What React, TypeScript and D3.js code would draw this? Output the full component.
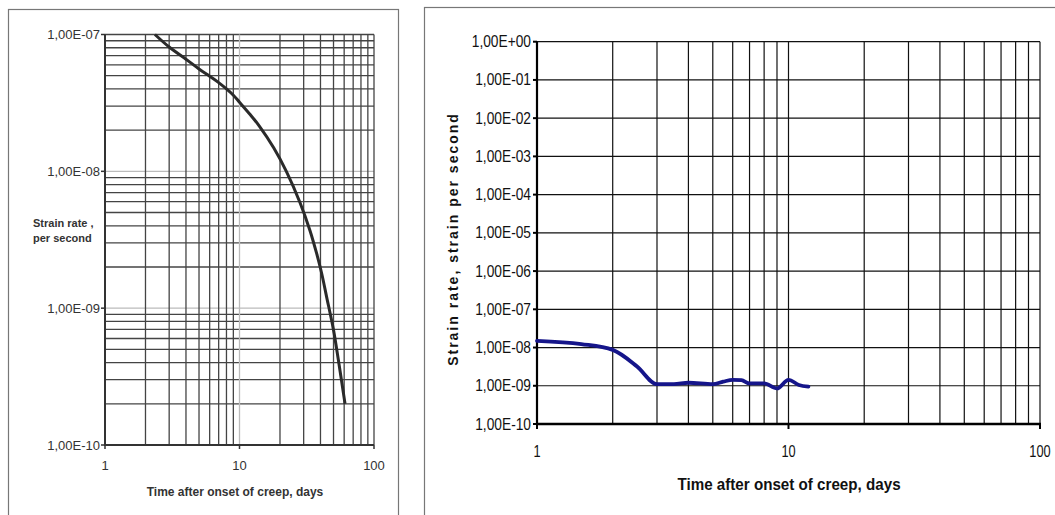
import * as d3 from "d3";

// left chart: creep strain rate
const leftDays = [
  2.35, 3, 4, 5, 6, 7, 8, 9, 10, 12, 14, 18, 22.3, 28.2, 33.4, 37.5, 40.8, 44.5, 49.9, 54.3, 60.9,
];
const leftRate = [
  1e-7, 8.1e-8, 6.6e-8, 5.6e-8, 4.95e-8, 4.45e-8, 4e-8, 3.6e-8, 3.2e-8, 2.6e-8, 2.15e-8, 1.48e-8,
  1e-8, 5.9e-9, 3.7e-9, 2.5e-9, 1.8e-9, 1.2e-9, 7e-10, 4.2e-10, 2e-10,
];
const leftYTicks = ["1,00E-07", "1,00E-08", "1,00E-09", "1,00E-10"];
const leftYValues = [1e-7, 1e-8, 1e-9, 1e-10];

// right chart
const rightDays = [1, 1.5, 2, 2.5, 3, 3.5, 4, 5, 5.5, 6, 6.5, 7, 8, 9, 10, 11, 12];
const rightRate = [
  1.5e-8, 1.23e-8, 8.7e-9, 3.2e-9, 1.1e-9, 1.1e-9, 1.2e-9, 1.1e-9, 1.28e-9,
  1.43e-9, 1.4e-9, 1.15e-9, 1.15e-9, 0.85e-9, 1.43e-9, 1.05e-9, 0.95e-9,
];
const rightYTicks = [
  "1,00E+00", "1,00E-01", "1,00E-02", "1,00E-03", "1,00E-04", "1,00E-05",
  "1,00E-06", "1,00E-07", "1,00E-08", "1,00E-09", "1,00E-10",
];
const rightYValues = d3.range(0, -11, -1).map((e) => Math.pow(10, e));

const xTickLabels = ["1", "10", "100"];
const xTickValues = [1, 10, 100];

const font = "'Liberation Sans', Arial, sans-serif";

// all 1..9 multiples inside [lo, hi] decades
const logGrid = (lo: number, hi: number) => {
  const out: number[] = [];
  for (let e = lo; e < hi; e++) {
    for (let m = 1; m < 10; m++) out.push(m * Math.pow(10, e));
  }
  out.push(Math.pow(10, hi));
  return out;
};

const isDecade = (v: number) => Math.abs(Math.log10(v) - Math.round(Math.log10(v))) < 1e-9;

const LeftChart = () => {
  const x = d3.scaleLog().domain([1, 100]).range([105, 374]);
  const y = d3.scaleLog().domain([1e-10, 1e-7]).range([445, 34.5]);
  const line = d3
    .line<number>()
    .x((d) => x(d))
    .y((_, i) => y(leftRate[i]))
    .curve(d3.curveCatmullRom.alpha(0.5));
  const [x0, x1] = x.range();
  const [y0, y1] = y.range();

  return (
    <g fontFamily={font}>
      <rect x={8.5} y={9.5} width={390} height={600} fill="none" stroke="#777" strokeWidth={1.2} />
      {logGrid(-10, -7).map((v) => (
        <line
          key={"h" + v}
          x1={x0}
          x2={x1}
          y1={y(v)}
          y2={y(v)}
          stroke={isDecade(v) && v !== 1e-7 ? "#bbb" : "#444"}
          strokeWidth={1.3}
        />
      ))}
      {logGrid(0, 2).map((v) => (
        <line
          key={"v" + v}
          x1={x(v)}
          x2={x(v)}
          y1={y0}
          y2={y1}
          stroke={v === 10 ? "#bbb" : "#444"}
          strokeWidth={1.3}
        />
      ))}
      <line x1={x0} x2={x0} y1={y0 + 1} y2={y1} stroke="#333" strokeWidth={2} />
      <line x1={x0} x2={x1} y1={y0} y2={y0} stroke="#333" strokeWidth={2.2} />
      {leftYValues.map((v, i) => (
        <g key={v}>
          <line x1={x0 - 4} x2={x0} y1={y(v)} y2={y(v)} stroke="#333" strokeWidth={1.5} />
          <text x={x0 - 5} y={y(v) + 4.5} textAnchor="end" fontSize={13} fill="#333">
            {leftYTicks[i]}
          </text>
        </g>
      ))}
      {xTickValues.map((v, i) => (
        <g key={v}>
          <line x1={x(v)} x2={x(v)} y1={y0} y2={y0 + 4} stroke="#333" strokeWidth={1.5} />
          <text x={x(v)} y={470} textAnchor="middle" fontSize={13} fill="#333">
            {xTickLabels[i]}
          </text>
        </g>
      ))}
      <path d={line(leftDays) ?? ""} fill="none" stroke="#2a2a2a" strokeWidth={3} />
      <text x={33} y={227} fontSize={11} fontWeight="bold" fill="#333">
        Strain rate ,
      </text>
      <text x={33} y={242} fontSize={11} fontWeight="bold" fill="#333">
        per second
      </text>
      <text x={235} y={496} textAnchor="middle" fontSize={12} fontWeight="bold" fill="#333">
        Time after onset of creep, days
      </text>
    </g>
  );
};

// text squeezed horizontally, the right figure is stretched vertically
const SText = ({ x, y, sx, anchor, size, bold, children }: any) => (
  <text
    transform={`translate(${x},${y}) scale(${sx},1)`}
    textAnchor={anchor}
    fontSize={size}
    fontWeight={bold ? "bold" : "normal"}
    fill="#111"
  >
    {children}
  </text>
);

const RightChart = () => {
  const x = d3.scaleLog().domain([1, 100]).range([537, 1040]);
  const y = d3.scaleLog().domain([1e-10, 1]).range([424, 41.7]);
  const line = d3
    .line<number>()
    .x((d) => x(d))
    .y((_, i) => y(rightRate[i]))
    .curve(d3.curveMonotoneX);
  const [x0, x1] = x.range();
  const [y0, y1] = y.range();

  return (
    <g fontFamily={font}>
      <rect x={424.5} y={7.5} width={700} height={600} fill="none" stroke="#777" strokeWidth={1.2} />
      {rightYValues.map((v) => (
        <line key={"h" + v} x1={x0} x2={x1} y1={y(v)} y2={y(v)} stroke="#111" strokeWidth={1.2} />
      ))}
      {logGrid(0, 2).map((v) => (
        <line key={"v" + v} x1={x(v)} x2={x(v)} y1={y0} y2={y1} stroke="#111" strokeWidth={1.2} />
      ))}
      <line x1={x0} x2={x0} y1={y0 + 1} y2={y1} stroke="#000" strokeWidth={2.2} />
      <line x1={x0} x2={x1 + 1} y1={y0} y2={y0} stroke="#000" strokeWidth={2.6} />
      {rightYValues.map((v, i) => (
        <g key={v}>
          <line x1={x0 - 4} x2={x0} y1={y(v)} y2={y(v)} stroke="#000" strokeWidth={2} />
          <SText x={x0 - 6} y={y(v) + 5.5} sx={0.86} anchor="end" size={16}>
            {rightYTicks[i]}
          </SText>
        </g>
      ))}
      {xTickValues.map((v, i) => (
        <g key={v}>
          <line x1={x(v)} x2={x(v)} y1={y0} y2={y0 + 5} stroke="#000" strokeWidth={2} />
          <SText x={x(v)} y={457} sx={0.8} anchor="middle" size={16}>
            {xTickLabels[i]}
          </SText>
        </g>
      ))}
      <path
        d={line(rightDays) ?? ""}
        fill="none"
        stroke="#15158a"
        strokeWidth={3.8}
        strokeLinejoin="round"
        strokeLinecap="round"
      />
      <SText x={789} y={490} sx={0.92} anchor="middle" size={16.5} bold>
        Time after onset of creep, days
      </SText>
      <text
        transform="translate(458,239) rotate(-90)"
        textAnchor="middle"
        fontSize={14}
        fontWeight="bold"
        letterSpacing={2}
        fill="#111"
      >
        Strain rate, strain per second
      </text>
    </g>
  );
};

export default function App() {
  return (
    <svg
      width={1055}
      height={515}
      style={{ position: "absolute", left: 0, top: 0, background: "#fff" }}
    >
      <rect width={1055} height={515} fill="#fff" />
      <LeftChart />
      <RightChart />
    </svg>
  );
}
